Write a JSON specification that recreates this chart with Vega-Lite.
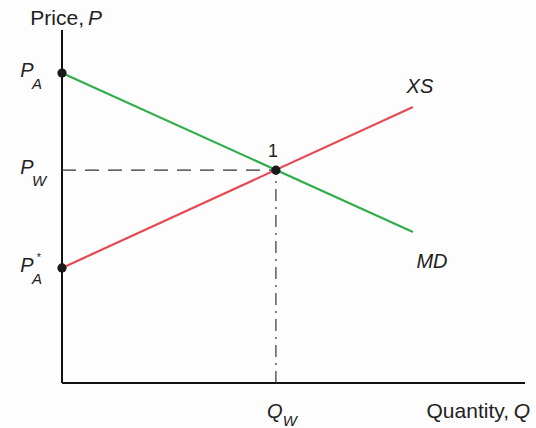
{
  "$schema": "https://vega.github.io/schema/vega-lite/v6.json",
  "width": 463,
  "height": 353,
  "autosize": {"type": "none"},
  "padding": {"left": 62, "top": 30, "right": 11, "bottom": 45},
  "background": "#fdfdfd",
  "config": {
    "view": {"stroke": null},
    "text": {"font": "Liberation Sans", "fontSize": 20, "color": "#222222", "baseline": "middle"}
  },
  "datasets": {
    "lines": [
      {"s": "MD", "x": 0, "y": 87.8},
      {"s": "MD", "x": 75.8, "y": 42.8},
      {"s": "XS", "x": 0, "y": 32.6},
      {"s": "XS", "x": 75.8, "y": 78.2}
    ],
    "points": [
      {"x": 0, "y": 87.8},
      {"x": 0, "y": 32.6},
      {"x": 46.2, "y": 60.3}
    ],
    "labels": [
      {"k": "ptitle", "t": "Price,", "x": 0, "y": 100},
      {"k": "ptitleP", "t": "P", "x": 0, "y": 100},
      {"k": "ymain", "t": "P", "x": 0, "y": 87.8},
      {"k": "ymain", "t": "P", "x": 0, "y": 60.3},
      {"k": "ymain", "t": "P", "x": 0, "y": 32.6},
      {"k": "ysub", "t": "A", "x": 0, "y": 87.8},
      {"k": "ysub", "t": "W", "x": 0, "y": 60.3},
      {"k": "ysub", "t": "A", "x": 0, "y": 32.6},
      {"k": "ysup", "t": "*", "x": 0, "y": 32.6},
      {"k": "one", "t": "1", "x": 46.2, "y": 60.3},
      {"k": "xs", "t": "XS", "x": 75.8, "y": 78.2},
      {"k": "md", "t": "MD", "x": 75.8, "y": 42.8},
      {"k": "qmain", "t": "Q", "x": 46.2, "y": 0},
      {"k": "qsub", "t": "W", "x": 46.2, "y": 0},
      {"k": "qtitle", "t": "Quantity,", "x": 100, "y": 0},
      {"k": "qtitleQ", "t": "Q", "x": 100, "y": 0}
    ]
  },
  "encoding": {
    "x": {"field": "x", "type": "quantitative", "scale": {"domain": [0, 100], "nice": false, "zero": false}, "axis": null},
    "y": {"field": "y", "type": "quantitative", "scale": {"domain": [0, 100], "nice": false, "zero": false}, "axis": null}
  },
  "layer": [
    {
      "data": {"values": [{"x": 0, "x2": 100, "y": 0}]},
      "mark": {"type": "rule", "color": "#111111", "strokeWidth": 2},
      "encoding": {"x2": {"field": "x2"}}
    },
    {
      "data": {"values": [{"x": 0, "y": 0, "y2": 100}]},
      "mark": {"type": "rule", "color": "#111111", "strokeWidth": 2},
      "encoding": {"y2": {"field": "y2"}}
    },
    {
      "data": {"values": [{"x": 0, "x2": 46.2, "y": 60.3}]},
      "mark": {"type": "rule", "color": "#333333", "strokeWidth": 1.3, "strokeDash": [14, 9]},
      "encoding": {"x2": {"field": "x2"}}
    },
    {
      "data": {"values": [{"x": 46.2, "y": 0, "y2": 60.3}]},
      "mark": {"type": "rule", "color": "#333333", "strokeWidth": 1.2, "strokeDash": [12, 6, 2, 6]},
      "encoding": {"y2": {"field": "y2"}}
    },
    {
      "data": {"name": "lines"},
      "mark": {"type": "line", "strokeWidth": 2.2},
      "encoding": {
        "color": {"field": "s", "type": "nominal", "scale": {"domain": ["MD", "XS"], "range": ["#2fae4a", "#e64a50"]}, "legend": null}
      }
    },
    {
      "data": {"name": "points"},
      "mark": {"type": "circle", "size": 85, "color": "#1a1a1a", "opacity": 1}
    },
    {
      "data": {"name": "labels"},
      "transform": [{"filter": "datum.k == 'ptitle'"}],
      "mark": {"type": "text", "align": "right", "dx": 22, "dy": -11, "fontSize": 21},
      "encoding": {"text": {"field": "t"}}
    },
    {
      "data": {"name": "labels"},
      "transform": [{"filter": "datum.k == 'ptitleP'"}],
      "mark": {"type": "text", "align": "left", "dx": 26, "dy": -11, "fontSize": 21, "fontStyle": "italic"},
      "encoding": {"text": {"field": "t"}}
    },
    {
      "data": {"name": "labels"},
      "transform": [{"filter": "datum.k == 'ymain'"}],
      "mark": {"type": "text", "align": "center", "dx": -35, "dy": -2, "fontStyle": "italic"},
      "encoding": {"text": {"field": "t"}}
    },
    {
      "data": {"name": "labels"},
      "transform": [{"filter": "datum.k == 'ysub'"}],
      "mark": {"type": "text", "align": "left", "dx": -30, "dy": 11, "fontSize": 15, "fontStyle": "italic"},
      "encoding": {"text": {"field": "t"}}
    },
    {
      "data": {"name": "labels"},
      "transform": [{"filter": "datum.k == 'ysup'"}],
      "mark": {"type": "text", "align": "center", "dx": -23, "dy": -10, "fontSize": 11},
      "encoding": {"text": {"field": "t"}}
    },
    {
      "data": {"name": "labels"},
      "transform": [{"filter": "datum.k == 'one'"}],
      "mark": {"type": "text", "align": "center", "dx": -3, "dy": -18, "fontSize": 18},
      "encoding": {"text": {"field": "t"}}
    },
    {
      "data": {"name": "labels"},
      "transform": [{"filter": "datum.k == 'xs'"}],
      "mark": {"type": "text", "align": "center", "dx": 7, "dy": -20, "fontStyle": "italic"},
      "encoding": {"text": {"field": "t"}}
    },
    {
      "data": {"name": "labels"},
      "transform": [{"filter": "datum.k == 'md'"}],
      "mark": {"type": "text", "align": "center", "dx": 19, "dy": 30, "fontStyle": "italic"},
      "encoding": {"text": {"field": "t"}}
    },
    {
      "data": {"name": "labels"},
      "transform": [{"filter": "datum.k == 'qmain'"}],
      "mark": {"type": "text", "align": "center", "dx": -1, "dy": 29, "fontStyle": "italic"},
      "encoding": {"text": {"field": "t"}}
    },
    {
      "data": {"name": "labels"},
      "transform": [{"filter": "datum.k == 'qsub'"}],
      "mark": {"type": "text", "align": "center", "dx": 14, "dy": 38, "fontSize": 15, "fontStyle": "italic"},
      "encoding": {"text": {"field": "t"}}
    },
    {
      "data": {"name": "labels"},
      "transform": [{"filter": "datum.k == 'qtitle'"}],
      "mark": {"type": "text", "align": "right", "dx": -16, "dy": 29, "fontSize": 21},
      "encoding": {"text": {"field": "t"}}
    },
    {
      "data": {"name": "labels"},
      "transform": [{"filter": "datum.k == 'qtitleQ'"}],
      "mark": {"type": "text", "align": "right", "dx": 5, "dy": 29, "fontSize": 21, "fontStyle": "italic"},
      "encoding": {"text": {"field": "t"}}
    }
  ]
}
